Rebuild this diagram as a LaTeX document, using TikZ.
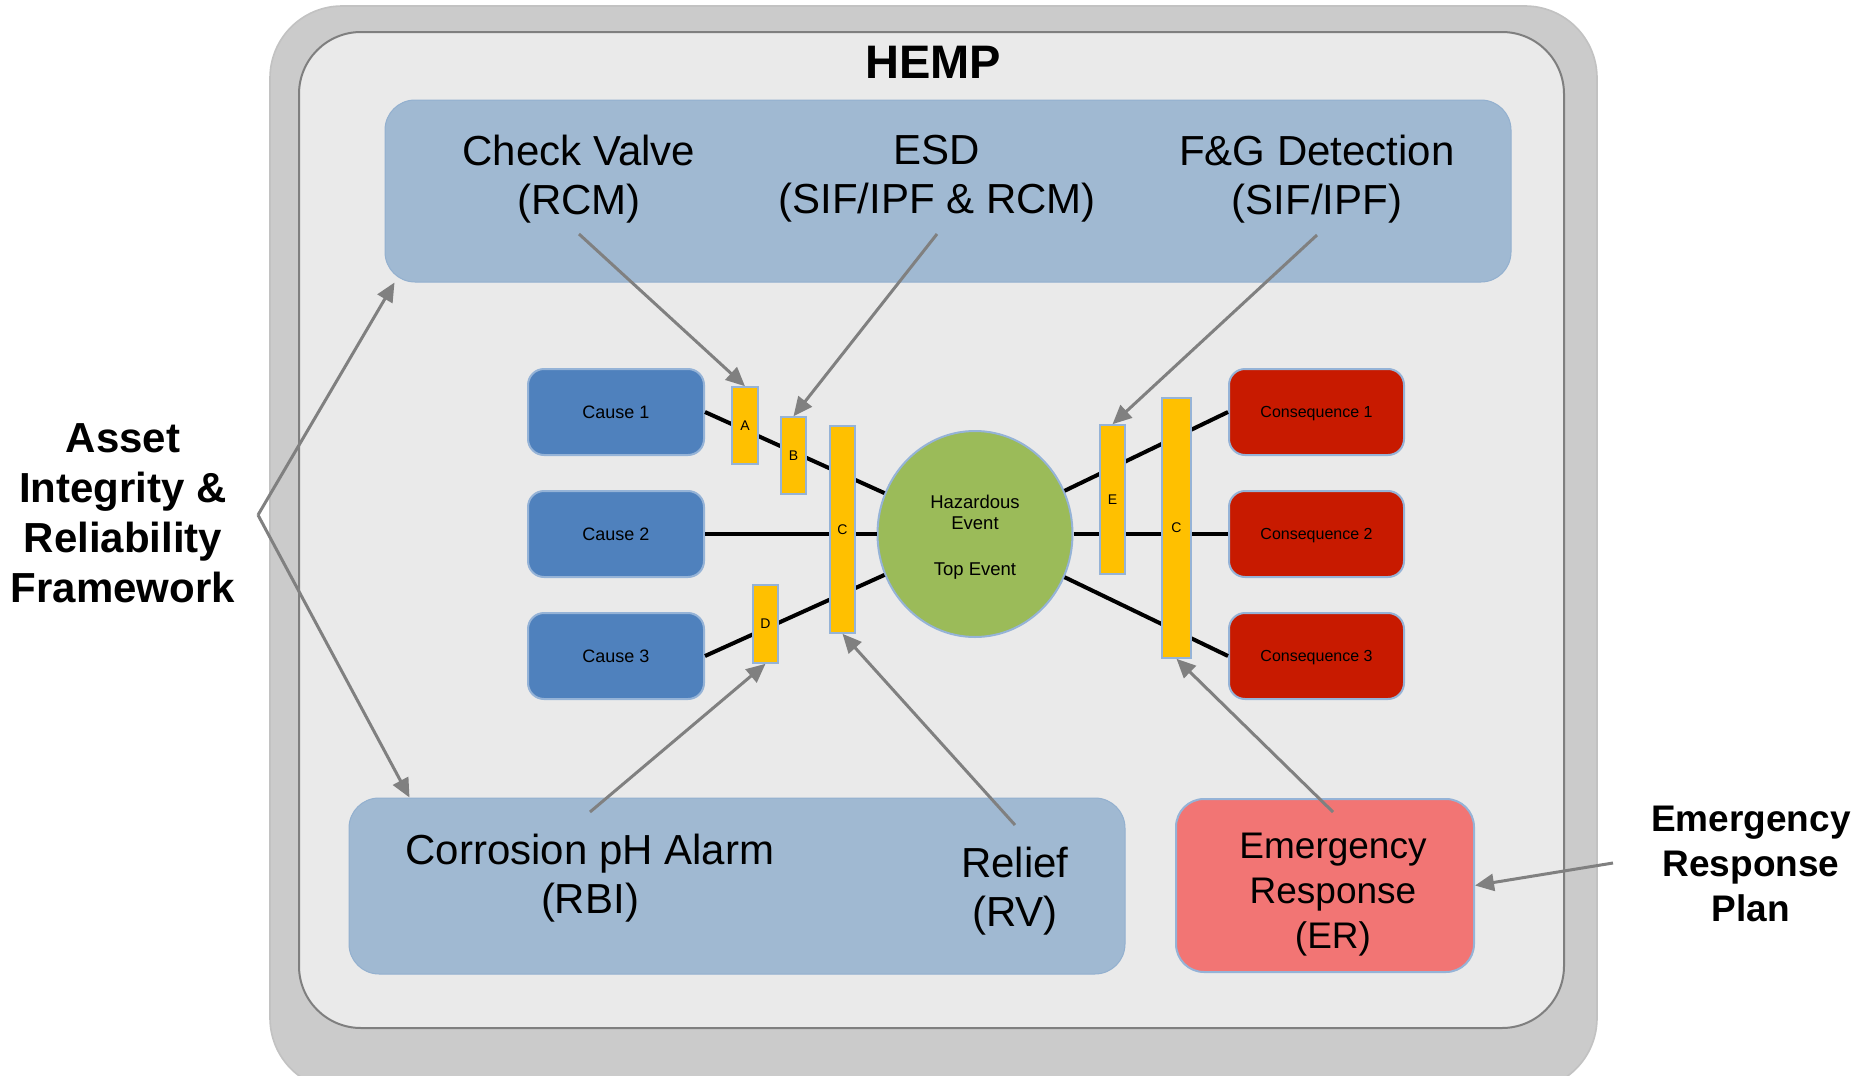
\documentclass[tikz,border=0pt]{standalone}
\usepackage{fontspec}
\setmainfont{Liberation Sans}
\usetikzlibrary{shapes.geometric,arrows.meta}
\definecolor{outerg}{HTML}{CBCBCB}
\definecolor{outerb}{HTML}{C2C2C2}
\definecolor{innerg}{HTML}{EAEAEA}
\definecolor{frameg}{HTML}{7F7F7F}
\definecolor{bluebox}{HTML}{A0B9D2}
\definecolor{panelb}{HTML}{93B0CF}
\definecolor{causeblue}{HTML}{4F81BD}
\definecolor{edgeblue}{HTML}{95B3D7}
\definecolor{consred}{HTML}{C81A00}
\definecolor{hazgreen}{HTML}{9BBB59}
\definecolor{barrierY}{HTML}{FFC000}
\definecolor{erpink}{HTML}{F27574}
\definecolor{arrowg}{HTML}{808080}
\begin{document}
\begin{tikzpicture}[x=0.5pt,y=-0.5pt,
  bigtxt/.style={font=\fontsize{21pt}{24.5pt}\selectfont,align=center,inner sep=0},
  panel/.style={fill=bluebox,draw=panelb,line width=0.5pt,rounded corners=15pt,inner sep=0},
  causebox/.style={fill=causeblue,draw=edgeblue,line width=1pt,rounded corners=8pt,minimum width=88pt,minimum height=43pt,inner sep=0,text depth=0pt,font=\fontsize{9pt}{11pt}\selectfont},
  consbox/.style={fill=consred,draw=edgeblue,line width=1pt,rounded corners=8pt,minimum width=87.5pt,minimum height=43pt,inner sep=0,text depth=0pt,font=\fontsize{8pt}{10pt}\selectfont},
  barrier/.style={fill=barrierY,draw=edgeblue,line width=0.8pt,inner sep=0,font=\fontsize{7pt}{8pt}\selectfont},
  link/.style={line width=2pt,black},
  ptr/.style={draw=arrowg,line width=1.5pt,-{Triangle[length=9.5pt,width=8.5pt]}},
  sidelabel/.style={font=\bfseries\fontsize{21pt}{25pt}\selectfont,align=center,inner sep=0},
]
\useasboundingbox (0,0) rectangle (1864,1076);
% outer and inner frames
\begin{scope}
  \clip (0,0) rectangle (1864,1076);
  \node[fill=outerg,draw=outerb,line width=0.8pt,rounded corners=36pt,minimum width=663.5pt,minimum height=542pt,inner sep=0] (outer) at (933.5,548) {};
\end{scope}
\node[fill=innerg,draw=frameg,line width=1pt,rounded corners=31pt,minimum width=632.5pt,minimum height=498pt,inner sep=0] (inner) at (931.5,530) {};
\node[font=\bfseries\fontsize{23.5pt}{28pt}\selectfont,inner sep=0] (hemp) at (933,62) {HEMP};

% panels
\node[panel,minimum width=563pt,minimum height=91pt] (topbox) at (948,191) {};
\node[panel,minimum width=388pt,minimum height=88pt] (botbox) at (737,886) {};
\node[fill=erpink,draw=edgeblue,line width=1pt,rounded corners=14pt,minimum width=149pt,minimum height=86.5pt,inner sep=0] (er) at (1325,885.5) {};

% panel texts
\node[bigtxt] (cv) at (579,179) {Check Valve\\(RCM)};
\node[bigtxt] (esd) at (937,179) {ESD\\(SIF/IPF \& RCM)};
\node[bigtxt] (fg) at (1317,179) {F\&G Detection\\(SIF/IPF)};
\node[bigtxt] (cor) at (590,878) {Corrosion pH Alarm\\(RBI)};
\node[bigtxt] (rel) at (1015,891) {Relief\\(RV)};
\node[font=\fontsize{18.5pt}{22.5pt}\selectfont,align=center,inner sep=0] (ertext) at (1333,895) {Emergency\\Response\\(ER)};

% side labels
\node[sidelabel] (asset) at (123,513) {Asset\\Integrity \&\\Reliability\\Framework};
\node[font=\bfseries\fontsize{18.5pt}{22.5pt}\selectfont,align=center,inner sep=0] (erp) at (1751,864) {Emergency\\Response\\Plan};

% causes and consequences
\node[causebox] (c1) at (616,412) {Cause 1};
\node[causebox] (c2) at (616,534) {Cause 2};
\node[causebox] (c3) at (616,656) {Cause 3};
\node[consbox] (q1) at (1316.5,412) {Consequence 1};
\node[consbox] (q2) at (1316.5,534) {Consequence 2};
\node[consbox] (q3) at (1316.5,656) {Consequence 3};

% hazardous event
\node[ellipse,fill=hazgreen,draw=edgeblue,line width=1pt,minimum width=97.5pt,minimum height=103pt,inner sep=0] (haz) at (975,534) {};
\node[align=center,inner sep=0,font=\fontsize{9.25pt}{10.75pt}\selectfont] (haztext) at (975,537) {Hazardous\\Event\\[12pt]Top Event};

% links
\draw[link] (c1.east) -- (haz);
\draw[link] (c2.east) -- (haz);
\draw[link] (c3.east) -- (haz);
\draw[link] (haz) -- (q1.west);
\draw[link] (haz) -- (q2.west);
\draw[link] (haz) -- (q3.west);

% barriers
\node[barrier,minimum width=13pt,minimum height=38.5pt] (bA) at (745,425.5) {A};
\node[barrier,minimum width=12.5pt,minimum height=38.5pt] (bB) at (793.5,455.5) {B};
\node[barrier,minimum width=12.5pt,minimum height=103.5pt] (bC) at (842.5,529.5) {C};
\node[barrier,minimum width=12.5pt,minimum height=39pt] (bD) at (765.5,624) {D};
\node[barrier,minimum width=12.5pt,minimum height=74.5pt] (bE) at (1112.5,499.5) {E};
\node[barrier,minimum width=14.5pt,minimum height=130pt] (bC2) at (1176.5,528) {C};

% pointer start points
\coordinate (cvS) at (579,234);
\coordinate (esdS) at (937,234);
\coordinate (fgS) at (1317,235);
\coordinate (corS) at (590,812);
\coordinate (relS) at (1015,825);
\coordinate (erS) at (1333,812);
\coordinate (erpS) at (1613,863);
\coordinate (apex) at (258,515);

\draw[ptr] (cvS) -- (bA.north);
\draw[ptr] (esdS) -- (bB.north);
\draw[ptr] (fgS) -- (bE.north);
\draw[ptr] (corS) -- (bD.south);
\draw[ptr] (relS) -- (bC.south);
\draw[ptr] (erS) -- (bC2.south);
\draw[ptr] (erpS) -- (er.east);
\draw[ptr] (apex) -- ([xshift=5pt]topbox.south west);
\draw[ptr] (apex) -- ([xshift=30.5pt]botbox.north west);
\end{tikzpicture}
\end{document}
